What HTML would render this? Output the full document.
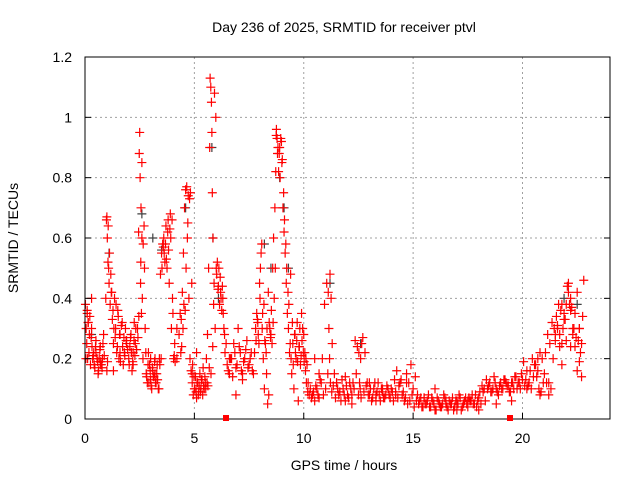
<!DOCTYPE html>
<html><head><meta charset="utf-8"><style>
html,body{margin:0;padding:0;background:#fff;}
svg{display:block;font-family:"Liberation Sans",sans-serif;}
</style></head><body>
<svg id="chart" width="640" height="480" viewBox="0 0 640 480">
<rect x="0" y="0" width="640" height="480" fill="#fff"/>
<g id="grid"></g>
<g id="marks"></g>
<rect x="85" y="57" width="525" height="362" fill="none" stroke="#000" stroke-width="1"/>
<g id="ticks"></g>
<text x="344" y="32" text-anchor="middle" font-size="14">Day 236 of 2025, SRMTID for receiver ptvl</text>
<text x="344" y="470" text-anchor="middle" font-size="14">GPS time / hours</text>
<text x="18" y="238" text-anchor="middle" font-size="14" transform="rotate(-90 18 238)">SRMTID / TECUs</text>
<rect x="223" y="415" width="6" height="6" fill="#f00"/>
<rect x="507" y="415" width="6" height="6" fill="#f00"/>
</svg>
<script>
const xTicks=[0,5,10,15,20];
const yTicks=[0,0.2,0.4,0.6,0.8,1,1.2];
const yTickLabels=["0","0.2","0.4","0.6","0.8","1","1.2"];
const redT=[0.02,0.05,0.08,0.1,0.12,0.15,0.18,0.2,0.25,0.3,0.32,0.35,0.4,0.45,0.5,0.55,0.6,0.65,0.7,0.75,0.8,0.85,
0.95,0.98,1.0,1.02,1.05,1.08,1.1,1.15,1.2,1.25,1.3,1.35,1.4,1.45,1.5,1.55,1.6,1.7,1.75,1.8,1.85,1.9,2.0,2.05,2.1,2.15,2.2,2.25,2.3,
2.4,2.45,2.48,2.5,2.52,2.55,2.58,2.6,2.62,2.65,2.7,2.75,2.8,2.85,2.9,2.95,3.0,3.05,3.1,3.15,3.2,3.25,3.3,3.35,3.4,
3.45,3.5,3.55,3.6,3.65,3.7,3.75,3.8,3.85,3.9,3.95,4.0,4.05,4.1,4.2,4.3,4.35,4.4,4.45,4.5,4.55,4.6,4.65,4.7,4.75,4.8,
4.85,4.9,4.95,5.0,5.05,5.1,5.15,5.2,5.25,5.3,5.35,5.4,5.45,5.5,5.55,5.6,5.65,5.7,5.72,5.75,5.78,5.8,5.82,5.85,5.88,5.9,5.95,
6.0,6.05,6.1,6.15,6.2,6.25,6.3,6.35,6.4,6.5,6.6,6.7,6.8,6.9,7.0,7.1,7.2,7.3,7.4,7.5,7.6,7.7,7.8,7.85,7.9,7.95,8.0,8.05,8.1,
8.15,8.2,8.25,8.3,8.35,8.4,8.45,8.5,8.55,8.6,8.65,8.7,8.72,8.75,8.78,8.8,8.85,8.9,8.95,9.0,9.05,9.1,9.15,9.2,9.25,9.3,9.35,9.4,9.45,9.5,
9.55,9.6,9.65,9.7,9.75,9.8,9.85,9.9,9.95,10.0,10.05,10.1,10.15,10.2,10.3,10.4,10.5,10.6,10.7,10.8,10.9,11.0,11.1,11.15,11.2,11.25,11.3,
11.4,11.5,11.6,11.7,11.8,11.9,12.0,12.1,12.2,12.3,12.4,12.5,12.55,12.6,12.65,12.7,12.8,12.9,13.0,13.1,13.2,13.3,13.4,13.5,13.6,13.7,13.8,13.9,
14.0,14.1,14.2,14.3,14.4,14.5,14.6,14.7,14.8,14.9,15.0,15.1,15.2,15.3,15.4,15.5,15.6,15.7,15.8,15.9,16.0,16.1,16.2,16.3,16.4,16.5,16.6,16.7,
16.8,16.9,17.0,17.1,17.2,17.3,17.4,17.5,17.6,17.7,17.8,17.9,18.0,18.1,18.2,18.3,18.4,18.5,18.6,18.7,18.8,18.9,19.0,19.1,19.2,19.3,19.4,19.5,
19.6,19.7,19.8,19.9,20.0,20.1,20.2,20.3,20.4,20.5,20.6,20.7,20.8,20.9,21.0,21.1,21.2,21.3,21.4,21.5,21.6,21.7,21.8,21.9,22.0,22.1,22.2,
22.3,22.4,22.5,22.6,22.7,22.8,
0.1,0.3,0.5,0.7,1.3,1.6,1.9,2.2,3.0,3.2,4.2,4.9,5.1,5.3,6.6,6.9,7.2,10.5,10.7,11.5,11.9,12.2,13.0,13.3,13.6,14.2,14.7,15.5,16.0,16.5,17.0,17.5,18.0,18.8,19.5,20.2,20.8,21.2,21.8,22.2,22.6,
0.04,0.14,0.22,0.28,0.38,0.42,0.48,0.58,0.62,0.68,0.72,0.78,0.82,0.88,1.0,1.03,1.06,1.12,1.18,1.22,1.28,1.32,1.38,1.42,1.48,1.52,1.58,1.62,1.66,1.72,1.78,1.82,1.88,1.95,2.02,2.08,2.12,2.18,2.24,2.28,2.32,2.36,
2.42,2.46,2.54,2.56,2.6,2.66,2.72,2.78,2.82,2.88,2.92,2.98,3.02,3.08,3.12,3.18,3.22,3.28,3.32,3.38,3.42,3.48,3.52,3.58,3.62,3.68,3.72,3.78,3.82,3.88,3.92,3.98,4.02,4.08,4.12,
4.38,4.42,4.48,4.52,4.58,4.62,4.68,4.72,4.78,4.82,4.88,4.92,4.98,5.02,5.08,5.12,5.18,5.22,5.28,5.32,5.38,5.42,5.48,5.52,5.58,5.62,5.68,5.76,5.84,5.92,5.98,6.02,6.08,6.12,6.18,6.22,6.28,6.32,6.38,
6.45,6.55,6.65,6.75,6.85,6.95,7.05,7.15,7.25,7.35,7.45,7.55,7.65,7.75,7.82,7.88,7.92,7.98,8.02,8.08,8.12,8.18,8.22,8.28,8.32,8.38,8.42,8.48,8.52,8.58,8.62,8.68,8.74,8.82,8.88,8.92,8.98,9.02,9.08,9.12,9.18,9.22,9.28,9.32,9.38,9.42,9.48,9.52,9.58,9.62,9.68,9.72,9.78,9.82,9.88,9.92,9.98,10.02,10.08,10.12,10.18,
10.25,10.35,10.45,10.55,10.65,10.75,10.85,10.95,11.05,11.12,11.18,11.22,11.28,11.35,11.45,11.55,11.65,11.75,11.85,11.95,12.05,12.15,12.25,12.35,12.45,12.52,12.58,12.62,12.75,12.85,12.95,13.05,13.15,13.25,13.35,13.45,13.55,13.65,13.75,13.85,13.95,
14.05,14.15,14.25,14.35,14.45,14.55,14.65,14.75,14.85,14.95,15.05,15.15,15.25,15.35,15.45,15.55,15.65,15.75,15.85,15.95,16.05,16.15,16.25,16.35,16.45,16.55,16.65,16.75,16.85,16.95,17.05,17.15,17.25,17.35,17.45,17.55,17.65,17.75,17.85,17.95,
18.05,18.15,18.25,18.35,18.45,18.55,18.65,18.75,18.85,18.95,19.05,19.15,19.25,19.35,19.45,19.55,19.65,19.75,19.85,19.95,20.05,20.15,20.25,20.35,20.45,20.55,20.65,20.75,20.85,20.95,21.05,21.15,21.25,21.35,21.45,21.55,21.65,21.75,21.85,21.95,22.05,22.15,22.25,22.35,22.45,22.55,22.65,22.75,
21.5,21.6,21.7,21.8,21.9,22.0,22.1,22.2,22.3,22.4,22.5,22.6,22.7,20.7,20.9,21.1,21.3];
const redV=[0.38,0.3,0.25,0.36,0.2,0.32,0.22,0.28,0.18,0.3,0.24,0.2,0.22,0.17,0.26,0.2,0.15,0.2,0.24,0.18,0.2,0.28,
0.4,0.66,0.67,0.6,0.52,0.5,0.45,0.38,0.42,0.33,0.25,0.4,0.3,0.22,0.36,0.2,0.28,0.32,0.18,0.22,0.3,0.26,0.2,0.24,0.28,0.16,0.22,0.32,0.25,
0.3,0.62,0.88,0.95,0.8,0.52,0.35,0.6,0.4,0.2,0.64,0.3,0.15,0.12,0.22,0.18,0.13,0.1,0.16,0.14,0.2,0.12,0.18,0.1,0.2,
0.48,0.55,0.58,0.6,0.52,0.64,0.5,0.66,0.45,0.68,0.3,0.4,0.2,0.25,0.2,0.28,0.35,0.33,0.42,0.55,0.7,0.76,0.77,0.65,0.4,0.2,
0.16,0.12,0.08,0.1,0.14,0.07,0.12,0.09,0.15,0.1,0.13,0.17,0.1,0.12,0.2,0.28,0.5,0.9,1.13,1.1,1.05,0.95,0.75,0.6,0.38,0.45,0.3,
0.5,0.52,0.44,0.38,0.42,0.36,0.4,0.3,0.22,0.18,0.15,0.2,0.25,0.17,0.3,0.22,0.15,0.2,0.26,0.18,0.22,0.15,0.3,0.35,0.32,0.25,0.4,0.55,0.3,
0.2,0.1,0.25,0.15,0.05,0.08,0.3,0.28,0.25,0.32,0.4,0.5,0.82,0.96,0.93,0.88,0.82,0.9,0.93,0.85,0.7,0.62,0.55,0.45,0.35,0.3,0.22,0.48,0.15,
0.25,0.1,0.28,0.2,0.32,0.06,0.24,0.18,0.35,0.3,0.28,0.22,0.2,0.18,0.12,0.1,0.08,0.06,0.1,0.07,0.12,0.08,0.1,0.15,0.3,0.48,0.4,0.25,0.15,
0.12,0.08,0.06,0.1,0.14,0.08,0.12,0.05,0.1,0.15,0.08,0.12,0.2,0.25,0.27,0.22,0.12,0.08,0.06,0.1,0.08,0.12,0.06,0.09,0.07,0.11,0.08,0.1,0.06,
0.09,0.07,0.12,0.08,0.06,0.15,0.12,0.18,0.1,0.14,0.08,0.06,0.04,0.07,0.05,0.08,0.04,0.06,0.03,0.07,0.05,0.04,0.08,0.06,0.03,0.05,0.07,0.04,
0.06,0.08,0.03,0.05,0.07,0.04,0.06,0.08,0.05,0.04,0.07,0.05,0.09,0.06,0.1,0.12,0.09,0.14,0.1,0.08,0.12,0.1,0.13,0.11,0.09,0.12,0.1,0.14,
0.12,0.1,0.13,0.11,0.16,0.12,0.1,0.14,0.18,0.16,0.22,0.2,0.15,0.12,0.08,0.1,0.2,0.26,0.3,0.28,0.25,0.35,0.38,0.45,0.4,0.28,0.35,0.42,
0.3,0.25,0.46,0.35,0.4,
0.22,0.18,0.16,0.22,0.25,0.18,0.2,0.15,0.3,0.15,0.22,0.1,0.2,0.08,0.13,0.2,0.15,0.12,0.06,0.08,0.12,0.06,0.1,0.08,0.12,0.07,0.1,0.05,0.03,0.06,0.03,0.05,0.06,0.1,0.08,0.12,0.18,0.24,0.3,0.2,0.32,
0.34,0.27,0.21,0.18,0.24,0.19,0.16,0.23,0.19,0.17,0.25,0.21,0.16,0.19,0.64,0.55,0.48,0.42,0.36,0.3,0.27,0.38,0.24,0.34,0.28,0.19,0.31,0.24,0.27,0.21,0.26,0.23,0.18,0.27,0.22,0.19,0.26,0.21,0.3,0.23,0.27,0.34,
0.45,0.7,0.85,0.58,0.5,0.22,0.14,0.18,0.12,0.16,0.11,0.17,0.14,0.19,0.12,0.15,0.13,0.1,0.18,0.2,0.5,0.57,0.55,0.58,0.53,0.62,0.56,0.63,0.6,0.66,0.35,0.21,0.19,0.22,0.24,
0.3,0.38,0.36,0.5,0.6,0.74,0.73,0.75,0.45,0.18,0.14,0.1,0.09,0.12,0.08,0.11,0.09,0.13,0.08,0.11,0.14,0.1,0.12,0.11,0.17,0.15,0.24,1.08,1.0,0.48,0.43,0.5,0.47,0.4,0.44,0.35,0.28,0.25,
0.16,0.2,0.14,0.22,0.18,0.24,0.16,0.19,0.23,0.17,0.2,0.16,0.22,0.26,0.33,0.28,0.45,0.5,0.58,0.35,0.38,0.26,0.22,0.3,0.42,0.32,0.27,0.36,0.5,0.6,0.7,0.94,0.9,0.88,0.8,0.92,0.86,0.75,0.66,0.58,0.5,0.42,0.38,0.25,0.2,0.32,0.18,0.28,0.22,0.26,0.19,0.24,0.3,0.21,0.26,0.22,0.19,0.16,
0.12,0.09,0.08,0.07,0.09,0.11,0.08,0.13,0.2,0.38,0.45,0.42,0.2,0.12,0.09,0.11,0.07,0.1,0.09,0.13,0.08,0.11,0.07,0.1,0.12,0.26,0.24,0.22,0.1,0.07,0.09,0.11,0.08,0.1,0.07,0.12,0.09,0.08,0.1,0.07,
0.08,0.1,0.07,0.09,0.13,0.16,0.11,0.13,0.09,0.07,0.05,0.06,0.08,0.04,0.06,0.05,0.07,0.04,0.05,0.06,0.04,0.07,0.05,0.03,0.06,0.04,0.05,0.07,0.04,0.06,0.05,0.03,0.06,0.05,0.07,0.04,0.06,0.05,0.07,0.06,
0.05,0.08,0.06,0.09,0.11,0.1,0.13,0.11,0.09,0.1,0.12,0.09,0.11,0.1,0.13,0.12,0.11,0.09,0.12,0.14,0.1,0.12,0.15,0.19,0.13,0.11,0.16,0.2,0.18,0.14,0.1,0.09,0.12,0.22,0.28,0.25,0.32,0.3,0.34,0.38,0.36,0.3,0.33,0.44,0.38,0.37,0.3,0.27,
0.26,0.22,0.34,0.28,0.31,0.24,0.38,0.33,0.26,0.42,0.36,0.3,0.24,0.16,0.19,0.14,0.2];
const greyT=[0.3,1.1,2.6,3.1,3.5,4.6,5.8,5.85,6.1,8.2,8.5,8.9,9.1,9.3,11.2,12.6,21.9,22.5];
const greyV=[0.28,0.55,0.68,0.6,0.56,0.7,0.9,0.6,0.4,0.58,0.5,0.8,0.7,0.5,0.45,0.25,0.4,0.38];
const X=h=>85+h*(525/24);
const Y=v=>419-v*(362/1.2);
const NS='http://www.w3.org/2000/svg';
const grid=document.getElementById('grid'),ticks=document.getElementById('ticks'),marks=document.getElementById('marks');
function mk(tag,attrs,parent){const e=document.createElementNS(NS,tag);for(const k in attrs)e.setAttribute(k,attrs[k]);parent.appendChild(e);return e;}
xTicks.forEach(t=>{
 if(t>0){const g=mk('line',{x1:X(t),x2:X(t),y1:57,y2:419,stroke:'#a0a0a0','stroke-dasharray':'2,3'},grid);
 
 }
 const l=mk('text',{x:X(t),y:443,'text-anchor':'middle','font-size':14},ticks);l.textContent=t;
 
 
 mk('line',{x1:X(t),x2:X(t),y1:419,y2:413,stroke:'#000'},ticks);
});
yTicks.forEach((t,i)=>{
 if(t>0&&t<1.2){const g=mk('line',{x1:85,x2:610,y1:Y(t),y2:Y(t),stroke:'#a0a0a0','stroke-dasharray':'2,3'},grid);
 
 }
 const l=mk('text',{x:72,y:Y(t)+5,'text-anchor':'end','font-size':14},ticks);l.textContent=yTickLabels[i];
 
 
 mk('line',{x1:85,x2:91,y1:Y(t),y2:Y(t),stroke:'#000'},ticks);
 mk('line',{x1:604,x2:610,y1:Y(t),y2:Y(t),stroke:'#000'},ticks);
});
function plus(x,y,c){const p=mk('path',{d:`M${x-4.5},${y}h9M${x},${y-4.5}v9`,stroke:c,'stroke-width':1.2,fill:'none'},marks);return p;}
greyT.forEach((t,i)=>{const p=plus(X(t),Y(greyV[i]),'#404040');
 
 });
redT.forEach((t,i)=>{const p=plus(X(t),Y(redV[i]),'#ff0000');
 
 });
</script>
</body></html>
